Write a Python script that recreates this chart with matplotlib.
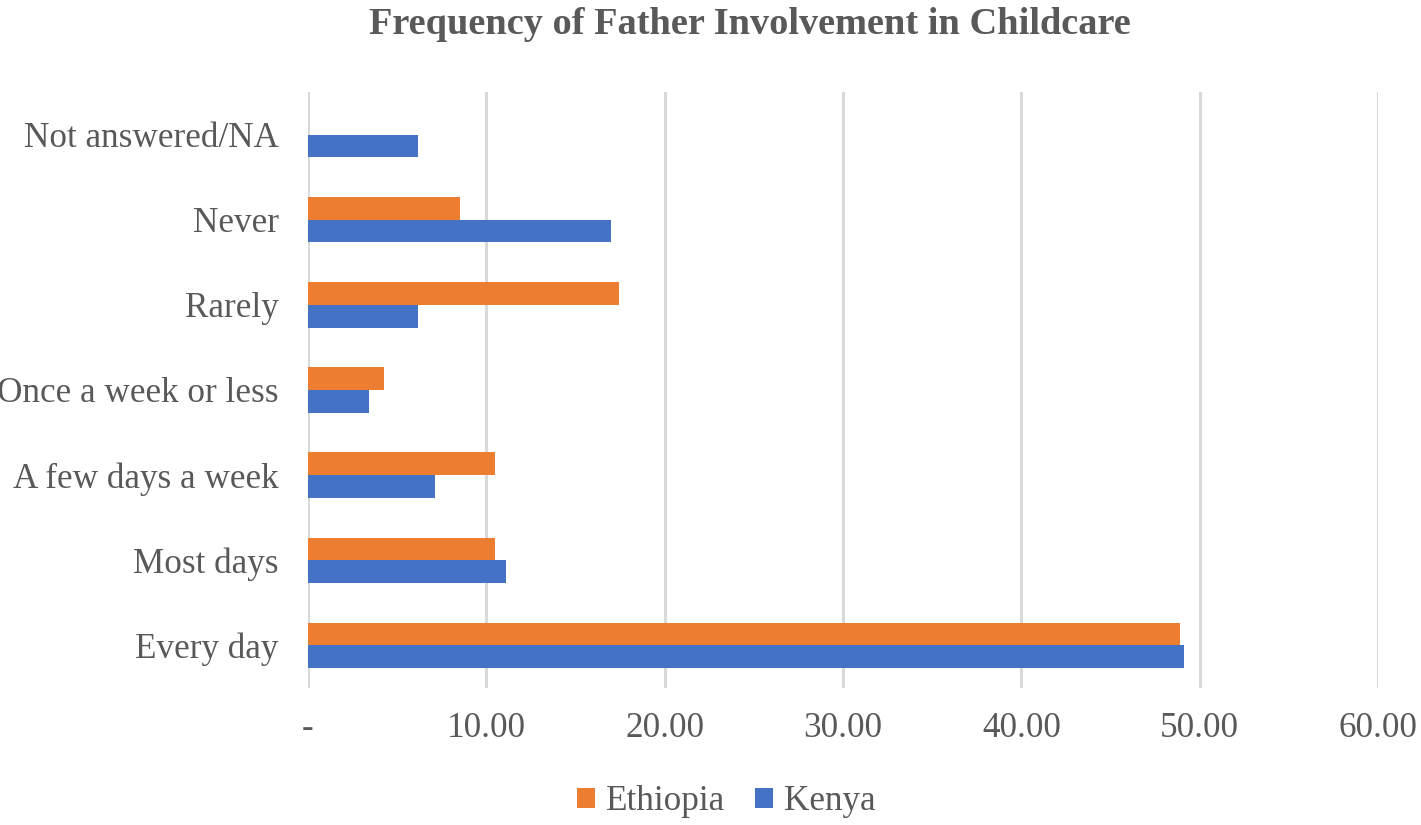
import matplotlib
matplotlib.use("Agg")
import matplotlib.pyplot as plt
import numpy as np

categories = ["Every day", "Most days", "A few days a week", "Once a week or less",
              "Rarely", "Never", "Not answered/NA"]
ethiopia = [48.9, 10.5, 10.5, 4.27, 17.42, 8.54, 0.0]
kenya = [49.13, 11.12, 7.13, 3.43, 6.16, 17.0, 6.16]
xticks = [0, 10, 20, 30, 40, 50, 60]
xtick_labels = ["-", "10.00", "20.00", "30.00", "40.00", "50.00", "60.00"]

plt.rcParams['font.family'] = ['Liberation Serif', 'DejaVu Serif']
gray = '#595959'

fig = plt.figure(figsize=(14.21, 8.25), dpi=100)
ax = fig.add_axes([308/1421, 1-688/825, (1378-308)/1421, (688-92)/825])

y = np.arange(len(categories))
h = 0.267
ax.barh(y + h/2, ethiopia, height=h, color='#ED7D31', label='Ethiopia', zorder=3)
ax.barh(y - h/2, kenya, height=h, color='#4472C4', label='Kenya', zorder=3)

ax.set_xlim(0, 60)
ax.set_ylim(-0.5, len(categories) - 0.5)
ax.set_yticks(y)
ax.set_yticklabels(categories, fontsize=25.3, color=gray)
ax.set_xticks(xticks)
ax.set_xticklabels(xtick_labels, fontsize=25.3, color=gray)
ax.tick_params(axis='both', length=0)
ax.tick_params(axis='y', pad=21)
ax.tick_params(axis='x', pad=17)
for s in ax.spines.values():
    s.set_visible(False)
ax.grid(axis='x', color='#D9D9D9', linewidth=2.2, zorder=0)
ax.set_axisbelow(True)

fig.text(750/1421, 1-24/825, "Frequency of Father Involvement in Childcare", ha='center', va='center',
         fontsize=27.6, fontweight='bold', color=gray)

leg = fig.legend(loc='center', bbox_to_anchor=(726/1421, 1-802/825), ncol=2, frameon=False,
                 fontsize=25.3, handlelength=0.52, handleheight=0.52, handletextpad=0.3,
                 columnspacing=0.85)
for t in leg.get_texts():
    t.set_color(gray)

fig.savefig("out.png", dpi=100)
